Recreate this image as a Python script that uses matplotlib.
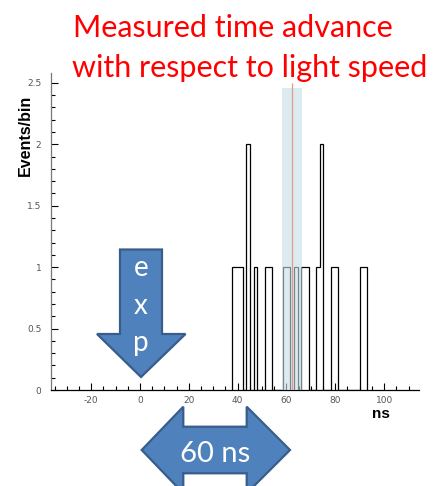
import matplotlib
matplotlib.use("Agg")
import matplotlib.pyplot as plt
import numpy as np
from matplotlib.patches import Polygon
from matplotlib.ticker import MultipleLocator

# Histogram of measured time advance (ns), 1.5 ns bins
bin_start = 37.6
bin_width = 1.5
counts = [1, 1, 1, 0, 2, 0, 1, 0, 0, 1, 1, 0, 0, 0, 1, 1, 0, 1, 0, 1,
          1, 0, 0, 1, 2, 0, 0, 1, 1, 0, 0, 0, 0, 0, 0, 1, 1]
edges = bin_start + bin_width * np.arange(len(counts) + 1)

# Mean value and its uncertainty band
mean_value = 62.2
band_low, band_high = 58.3, 66.5
band_top = 2.46
mean_top = 2.5

x_ticks = [-20, 0, 20, 40, 60, 80, 100]
y_ticks = [0, 0.5, 1, 1.5, 2, 2.5]
y_tick_labels = ["0", "0.5", "1", "1.5", "2", "2.5"]

W, H = 438, 486
fig = plt.figure(figsize=(W / 100, H / 100), dpi=100)

def px(x, y):
    return x / W, 1 - y / H

left, right, bottom, top = 51, 419, 390, 73
ax = fig.add_axes([left / W, 1 - bottom / H, (right - left) / W, (bottom - top) / H])

ax.stairs(counts, edges, color="black", lw=0.9, baseline=0, zorder=3)
ax.fill_betweenx([0, band_top], band_low, band_high, color=(197/255, 223/255, 230/255),
                 alpha=0.6, lw=0, zorder=4)
ax.vlines(mean_value, 0, mean_top, color="#e39a8a", lw=0.9, zorder=5)

ax.set_xlim(-36.5, 114.3)
ax.set_ylim(0, 2.58)
ax.set_xticks(x_ticks)
ax.set_xticklabels([str(t) for t in x_ticks])
ax.set_yticks(y_ticks)
ax.set_yticklabels(y_tick_labels)
ax.xaxis.set_minor_locator(MultipleLocator(5))
ax.yaxis.set_minor_locator(MultipleLocator(0.1))
ax.tick_params(which="both", direction="in", colors="black", labelcolor="#555555",
               labelsize=6.5, width=0.8)
ax.tick_params(which="major", length=5)
ax.tick_params(which="minor", length=3)
ax.tick_params(axis="x", pad=4)
ax.tick_params(axis="y", pad=7)
for s in ["top", "right"]:
    ax.spines[s].set_visible(False)
ax.spines["left"].set_color("#777777")
ax.spines["bottom"].set_color("black")
ax.spines["left"].set_linewidth(0.9)
ax.spines["bottom"].set_linewidth(0.9)

fig.text(*px(25, 135.5), "Events/bin", rotation=90, ha="center", va="center",
         fontsize=11.5, fontweight="bold", family="Liberation Sans")
fig.text(*px(381, 418), "ns", ha="center", va="baseline",
         fontsize=11, fontweight="bold", family="Liberation Sans")

# Title
title_font = dict(family="Lato", color="red", fontsize=22, ha="left", va="baseline")
fig.text(*px(73, 37), "Measured time advance", **title_font)
fig.text(*px(72, 77), "with respect to light speed", **title_font)

# Overlay for the annotation arrows, in pixel units
ov = fig.add_axes([0, 0, 1, 1], zorder=10)
ov.set_xlim(0, W)
ov.set_ylim(H, 0)
ov.axis("off")
fill, edge = "#4f81bd", "#385d8a"

down = [(120, 249.5), (162, 249.5), (162, 334), (185.5, 334), (141, 377),
        (97, 334), (120, 334)]
ov.add_patch(Polygon(down, closed=True, fc=fill, ec=edge, lw=1.6))
for ch, yb in zip("exp", [276, 314, 351]):
    ov.text(141, yb, ch, color="white", fontsize=20, family="Lato",
            ha="center", va="baseline")

dbl = [(141.7, 450), (183.3, 406.7), (183.3, 426.7), (246.7, 426.7), (246.7, 406.7),
       (290, 450), (246.7, 493.3), (246.7, 473.3), (183.3, 473.3), (183.3, 493.3)]
ov.add_patch(Polygon(dbl, closed=True, fc=fill, ec=edge, lw=1.6, clip_on=False))
ov.text(215, 461.5, "60 ns", color="white", fontsize=21, family="Lato",
        ha="center", va="baseline")

fig.savefig("out.png", dpi=100)
